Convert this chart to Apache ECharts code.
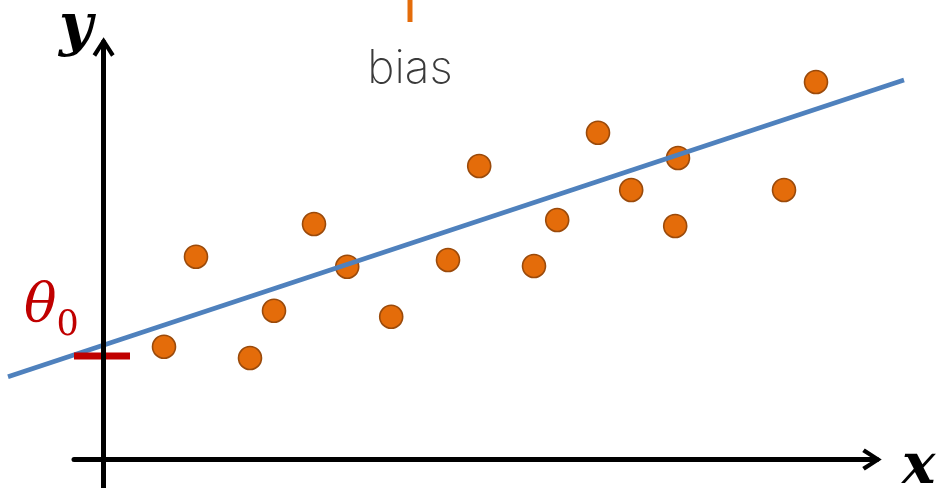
<!DOCTYPE html>
<html>
<head>
<meta charset="utf-8">
<script src="https://cdn.jsdelivr.net/npm/echarts@6/dist/echarts.min.js"></script>
<style>
  html, body { margin: 0; padding: 0; background: #ffffff; }
  #chart { width: 940px; height: 488px; }
</style>
</head>
<body>
<div id="chart"></div>
<script>
// Observations (x, y) in plot units
const pointX = [1.51, 2.31, 3.66, 4.26, 5.26, 6.09, 7.19, 8.61, 9.39, 10.76, 11.34, 12.36, 13.19, 14.36, 14.29, 17.01, 17.81];
const pointY = [2.82, 5.07, 2.54, 3.72, 5.89, 4.82, 3.57, 4.99, 7.34, 4.84, 5.99, 8.17, 6.74, 7.54, 5.84, 6.74, 9.44];

// Fitted regression line, drawn between its two end points
const fitX = [-2.39, 20.01];
const fitY = [2.07, 9.49];

// Intercept marker on the y axis
const biasX = [-0.74, 0.66];
const biasY = [2.59, 2.59];

// Short pointer above the plot, labelled "bias"
const pointerX = [7.66, 7.66];
const pointerY = [10.94, 11.49];

// Axis titles
const xName = 'x';
const yName = 'y';

const scatterData = pointX.map((x, i) => [x, pointY[i]]);
const fitData = fitX.map((x, i) => [x, fitY[i]]);
const biasData = biasX.map((x, i) => [x, biasY[i]]);
const pointerData = pointerX.map((x, i) => [x, pointerY[i]]);

// Plot scale: 40 px per unit on both axes.
// Grid 0 carries the visible axes; grid 1 spans the whole canvas with the
// same scale so marks may run past the axis ends.
const UNIT = 40, W = 940, H = 488;
const axesBox = { left: 74, right: 63, top: 42, bottom: 0 };
const xMin0 = -0.74, yMin0 = -0.71;
const xMax0 = xMin0 + (W - axesBox.left - axesBox.right) / UNIT;
const yMax0 = yMin0 + (H - axesBox.top - axesBox.bottom) / UNIT;
const xMin1 = xMin0 - axesBox.left / UNIT, xMax1 = xMin1 + W / UNIT;
const yMin1 = yMin0 - axesBox.bottom / UNIT, yMax1 = yMin1 + H / UNIT;

// Open chevron arrow head, tip pointing along the axis
const chevron = 'path://M11,0 L22,17 L18.5,19.5 L11,7.5 L3.5,19.5 L0,17 Z';

const axisNameStyle = {
  fontFamily: 'DejaVu Serif',
  fontStyle: 'italic',
  fontWeight: 'bold',
  color: '#000000'
};

const hiddenAxis = {
  type: 'value',
  show: false,
  gridIndex: 1,
  axisLine: { show: false },
  axisTick: { show: false },
  axisLabel: { show: false },
  splitLine: { show: false }
};

const chart = echarts.init(document.getElementById('chart'), null, { renderer: 'canvas' });

chart.setOption({
  animation: false,
  backgroundColor: '#ffffff',
  grid: [
    Object.assign({ containLabel: false, outerBoundsMode: 'none' }, axesBox),
    { left: 0, right: 0, top: 0, bottom: 0, containLabel: false, outerBoundsMode: 'none' }
  ],
  xAxis: [
    {
      type: 'value',
      gridIndex: 0,
      min: xMin0,
      max: xMax0,
      z: 10,
      name: xName,
      nameLocation: 'end',
      nameGap: 25,
      nameTextStyle: Object.assign({ fontSize: 56, verticalAlign: 'top', lineHeight: 17 }, axisNameStyle),
      axisLine: {
        show: true,
        onZero: true,
        symbol: ['none', chevron],
        symbolSize: [22, 20],
        symbolOffset: [0, -5],
        lineStyle: { color: '#000000', width: 5 }
      },
      axisTick: { show: false },
      axisLabel: { show: false },
      splitLine: { show: false }
    },
    Object.assign({ min: xMin1, max: xMax1 }, hiddenAxis)
  ],
  yAxis: [
    {
      type: 'value',
      gridIndex: 0,
      min: yMin0,
      max: yMax0,
      z: 10,
      name: yName,
      nameLocation: 'end',
      nameGap: -16,
      nameTextStyle: Object.assign({ fontSize: 58, align: 'right', padding: [0, 11, 0, 0] }, axisNameStyle),
      axisLine: {
        show: true,
        onZero: true,
        symbol: ['none', chevron],
        symbolSize: [22, 20],
        symbolOffset: [0, -5],
        lineStyle: { color: '#000000', width: 5 }
      },
      axisTick: { show: false },
      axisLabel: { show: false },
      splitLine: { show: false }
    },
    Object.assign({ min: yMin1, max: yMax1 }, hiddenAxis)
  ],
  series: [
    {
      name: 'samples',
      type: 'scatter',
      xAxisIndex: 1,
      yAxisIndex: 1,
      z: 2,
      symbol: 'circle',
      symbolSize: 23,
      itemStyle: { color: '#E46C0A', opacity: 1, borderColor: '#9A4A0B', borderWidth: 1.6 },
      data: scatterData
    },
    {
      name: 'fit',
      type: 'line',
      xAxisIndex: 1,
      yAxisIndex: 1,
      z: 3,
      clip: false,
      showSymbol: false,
      symbol: 'none',
      lineStyle: { color: '#4F81BD', width: 4.6 },
      data: fitData
    },
    {
      name: 'theta0',
      type: 'line',
      xAxisIndex: 1,
      yAxisIndex: 1,
      z: 4,
      clip: false,
      symbol: 'circle',
      symbolSize: 0,
      lineStyle: { color: '#C00000', width: 7, cap: 'butt' },
      itemStyle: { color: '#C00000' },
      data: [
        {
          value: biasData[0],
          label: {
            show: true,
            position: [-50, -85.5],
            align: 'left',
            verticalAlign: 'top',
            formatter: '{t|θ}{s|0}',
            rich: {
              t: { fontFamily: 'DejaVu Serif', fontStyle: 'italic', fontSize: 54, color: '#C00000', lineHeight: 73, verticalAlign: 'middle' },
              s: { fontFamily: 'DejaVu Serif', fontSize: 35, color: '#C00000', lineHeight: 34, verticalAlign: 'bottom' }
            }
          }
        },
        biasData[1]
      ]
    },
    {
      name: 'pointer',
      type: 'line',
      xAxisIndex: 1,
      yAxisIndex: 1,
      z: 4,
      clip: false,
      symbol: 'circle',
      symbolSize: 0,
      lineStyle: { color: '#E46C0A', width: 5, cap: 'butt' },
      itemStyle: { color: '#E46C0A' },
      data: [
        {
          value: pointerData[0],
          label: {
            show: true,
            position: 'bottom',
            distance: 24,
            formatter: 'bias',
            fontFamily: 'Inter',
            fontWeight: 200,
            fontSize: 46,
            color: '#3a3a3a'
          }
        },
        pointerData[1]
      ]
    }
  ]
});
</script>
</body>
</html>
